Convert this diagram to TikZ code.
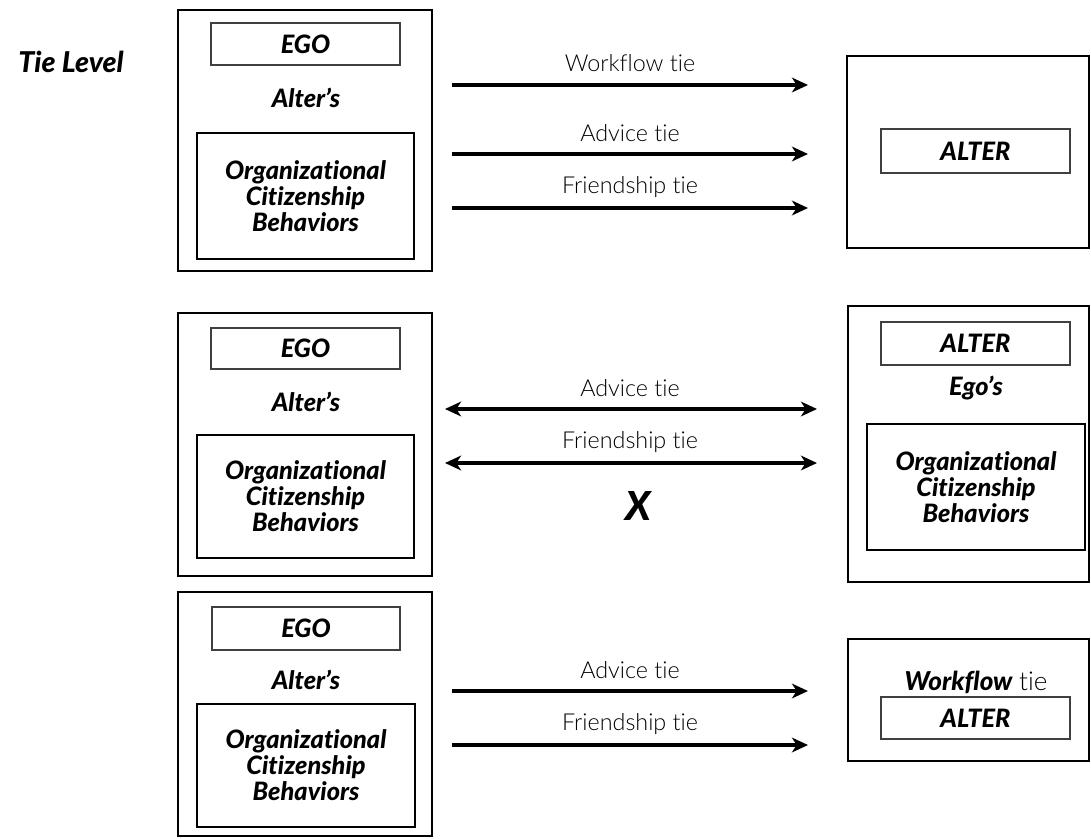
\documentclass[tikz,border=0pt]{standalone}
\usepackage{fontspec}
\setmainfont{Lato}[RawFeature=-liga]
\newfontfamily\lightfont{Lato Light}[RawFeature=-liga]
\newfontfamily\heavyfont{Lato Black}[ItalicFont={Lato Black Italic},RawFeature=-liga]
\usetikzlibrary{fit,arrows.meta}
\tikzset{
  outerbox/.style={draw, line width=1.5pt, inner sep=0pt},
  egobox/.style={draw, black!75, line width=0.8pt, inner sep=0pt},
  ocbbox/.style={draw, line width=1.2pt, inner sep=0pt},
  bi/.style={font=\heavyfont\itshape\fontsize{19}{19.5}\selectfont, align=center, inner sep=0pt},
  lt/.style={font=\lightfont\fontsize{17.5}{20}\selectfont, inner sep=0pt},
  tip/.tip={Stealth[length=12pt,width=11pt,inset=3.5pt]},
  arr/.style={line width=2.6pt, -tip},
  darr/.style={line width=2.6pt, tip-tip},
}
\begin{document}
\begin{tikzpicture}[x=0.75pt,y=-0.75pt]
\useasboundingbox (0,0) rectangle (1091,838);

\node[bi, font=\heavyfont\itshape\fontsize{21.5}{24}\selectfont] (tl) at (71,62) {Tie Level};

% ---------- Row 1 ----------
\node[outerbox, fit={(178,10)(432,271)}] (b1) {};
\node[egobox, fit={(211,23)(400,65)}] (e1) {};
\node[bi] (e1t) at (e1.center) {EGO};
\node[bi] (a1t) at (306,98) {Alter’s};
\node[ocbbox, fit={(197,133)(414,259)}] (o1) {};
\node[bi] (o1t) at (o1.center) {Organizational\\Citizenship\\Behaviors};

\node[outerbox, fit={(847,56)(1089,248)}] (r1) {};
\node[egobox, fit={(881,129)(1070,173)}] (ra1) {};
\node[bi] (ra1t) at (ra1.center) {ALTER};

\coordinate (w1s) at (452,85);  \coordinate (w1e) at (808,85);
\coordinate (v1s) at (452,154); \coordinate (v1e) at (808,154);
\coordinate (f1s) at (452,208); \coordinate (f1e) at (808,208);
\draw[arr] (w1s) -- (w1e);
\draw[arr] (v1s) -- (v1e);
\draw[arr] (f1s) -- (f1e);
\node[lt] (w1l) at (630,63) {Workflow tie};
\node[lt] (v1l) at (630,133) {Advice tie};
\node[lt] (f1l) at (630,187) {Friendship tie};

% ---------- Row 2 ----------
\node[outerbox, fit={(178,313)(432,576)}] (b2) {};
\node[egobox, fit={(211,328)(400,369)}] (e2) {};
\node[bi] (e2t) at (e2.center) {EGO};
\node[bi] (a2t) at (306,402) {Alter’s};
\node[ocbbox, fit={(197,435)(414,558)}] (o2) {};
\node[bi] (o2t) at (o2.center) {Organizational\\Citizenship\\Behaviors};

\node[outerbox, fit={(848,306)(1089,582)}] (r2) {};
\node[egobox, fit={(881,322)(1070,365)}] (ra2) {};
\node[bi] (ra2t) at (ra2.center) {ALTER};
\node[bi] (eg2t) at (976,388) {Ego’s};
\node[ocbbox, fit={(867,424)(1085,550)}] (ro2) {};
\node[bi] (ro2t) at (ro2.center) {Organizational\\Citizenship\\Behaviors};

\coordinate (v2s) at (445,409); \coordinate (v2e) at (817,409);
\coordinate (f2s) at (445,463); \coordinate (f2e) at (817,463);
\draw[darr] (v2s) -- (v2e);
\draw[darr] (f2s) -- (f2e);
\node[lt] (v2l) at (630,388) {Advice tie};
\node[lt] (f2l) at (630,442) {Friendship tie};
\node[bi, font=\heavyfont\itshape\fontsize{30}{32}\selectfont] (x2) at (638,506) {X};

% ---------- Row 3 ----------
\node[outerbox, fit={(178,592)(432,836)}] (b3) {};
\node[egobox, fit={(212,607)(400,650)}] (e3) {};
\node[bi] (e3t) at (e3.center) {EGO};
\node[bi] (a3t) at (306,680) {Alter’s};
\node[ocbbox, fit={(197,704)(415,827)}] (o3) {};
\node[bi] (o3t) at (o3.center) {Organizational\\Citizenship\\Behaviors};

\node[outerbox, fit={(848,639)(1089,761)}] (r3) {};
\node[font=\fontsize{19.5}{21}\selectfont, inner sep=0pt] (wf3) at (976,682) {{\heavyfont\itshape Workflow} {\lightfont tie}};
\node[egobox, fit={(881,697)(1070,739)}] (ra3) {};
\node[bi] (ra3t) at (ra3.center) {ALTER};

\coordinate (v3s) at (452,691); \coordinate (v3e) at (808,691);
\coordinate (f3s) at (452,745); \coordinate (f3e) at (808,745);
\draw[arr] (v3s) -- (v3e);
\draw[arr] (f3s) -- (f3e);
\node[lt] (v3l) at (630,670) {Advice tie};
\node[lt] (f3l) at (630,724) {Friendship tie};
\end{tikzpicture}
\end{document}
